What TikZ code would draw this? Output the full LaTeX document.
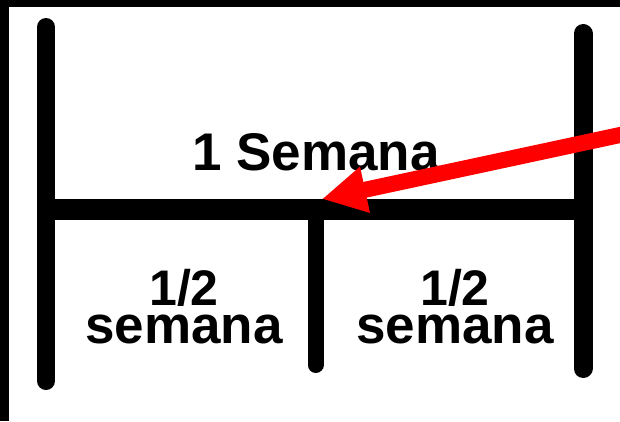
\documentclass[tikz,border=0pt]{standalone}
\usepackage{fontspec}
\setmainfont{Liberation Sans}
\usetikzlibrary{arrows.meta}
\begin{document}
\begin{tikzpicture}[x=1pt,y=-1pt,
  bar/.style={line width=#1, black},
  lbl/.style={font=\fontsize{53}{40}\selectfont\bfseries, inner sep=0pt, anchor=base},
  frac/.style={lbl, font=\fontsize{50}{40}\selectfont\bfseries, text depth=0pt},
  redarrow/.style={red, line width=16pt, -{Triangle[length=44pt,width=44pt]}}]
\useasboundingbox (0,0) rectangle (620,421);
\clip (0,0) rectangle (620,421);
\fill[white] (0,0) rectangle (620,421);
% frame bands
\fill[black] (0,0) rectangle (620,7);
\fill[black] (0,0) rectangle (9,421);
% bar end points
\coordinate (lt) at (46,27);
\coordinate (lb) at (46,381);
\coordinate (rt) at (583,33.5);
\coordinate (rb) at (583,368.5);
\coordinate (hl) at (46,209);
\coordinate (hr) at (583,209);
\coordinate (mt) at (315.5,209);
\coordinate (mb) at (315.5,365);
\draw[bar=18pt, line cap=round] (lt) -- (lb);
\draw[bar=19pt, line cap=round] (rt) -- (rb);
\draw[bar=21pt] (hl) -- (hr);
\draw[bar=16pt, line cap=round] (mt) -- (mb);
% labels
\node[lbl] (week) at (316,170) {1 Semana};
\node[frac] (halfLn) at (184,305) {1/2};
\node[lbl] (halfLw) at (184,343) {semana};
\node[frac] (halfRn) at (455,305) {1/2};
\node[lbl] (halfRw) at (455,343) {semana};
% red arrow
\coordinate (atail) at (640,130.7);
\coordinate (atip) at (322,199);
\draw[redarrow] (atail) -- (atip);
\end{tikzpicture}
\end{document}
